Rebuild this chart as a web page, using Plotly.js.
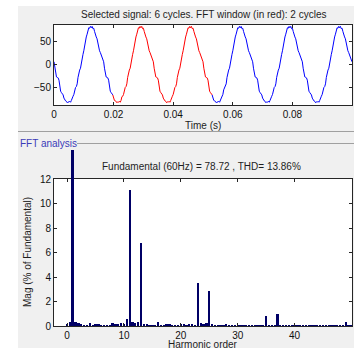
<!DOCTYPE html>
<html>
<head>
<meta charset="utf-8">
<script src="https://cdn.plot.ly/plotly-3.0.1.min.js"></script>
<style>
  html, body { margin: 0; padding: 0; background: #ffffff; }
  #chart { width: 354px; height: 348px; }
</style>
</head>
<body>
<div id="chart"></div>
<script>
// Inverter output voltage, sampled 60 times per 60 Hz cycle (6 cycles shown)
const sampleStep = 1 / 3600; // seconds
const signal = [
  6, -8, -24, -27, -28, -29, -34, -48, -58, -61, -63, -66, -73, -78, -79, -80, -83, -81, -82, -80,
  -82, -78, -70, -69, -65, -55, -50, -48, -42, -28, -14, -12, -8, 6, 18, 22, 30, 44, 57, 60,
  66, 74, 80, 79, 83, 80, 83, 78, 79, 72, 62, 60, 56, 48, 34, 30, 26, 20, 16, 12,
  6, -8, -24, -27, -28, -29, -34, -48, -58, -61, -63, -66, -73, -78, -79, -80, -83, -81, -82, -80,
  -82, -78, -70, -69, -65, -55, -50, -48, -42, -28, -14, -12, -8, 6, 18, 22, 30, 44, 57, 60,
  66, 74, 80, 79, 83, 80, 83, 78, 79, 72, 62, 60, 56, 48, 34, 30, 26, 20, 16, 12,
  6, -8, -24, -27, -28, -29, -34, -48, -58, -61, -63, -66, -73, -78, -79, -80, -83, -81, -82, -80,
  -82, -78, -70, -69, -65, -55, -50, -48, -42, -28, -14, -12, -8, 6, 18, 22, 30, 44, 57, 60,
  66, 74, 80, 79, 83, 80, 83, 78, 79, 72, 62, 60, 56, 48, 34, 30, 26, 20, 16, 12,
  6, -8, -24, -27, -28, -29, -34, -48, -58, -61, -63, -66, -73, -78, -79, -80, -83, -81, -82, -80,
  -82, -78, -70, -69, -65, -55, -50, -48, -42, -28, -14, -12, -8, 6, 18, 22, 30, 44, 57, 60,
  66, 74, 80, 79, 83, 80, 83, 78, 79, 72, 62, 60, 56, 48, 34, 30, 26, 20, 16, 12,
  6, -8, -24, -27, -28, -29, -34, -48, -58, -61, -63, -66, -73, -78, -79, -80, -83, -81, -82, -80,
  -82, -78, -70, -69, -65, -55, -50, -48, -42, -28, -14, -12, -8, 6, 18, 22, 30, 44, 57, 60,
  66, 74, 80, 79, 83, 80, 83, 78, 79, 72, 62, 60, 56, 48, 34, 30, 26, 20, 16, 12,
  6, -8, -24, -27, -28, -29, -34, -48, -58, -61, -63, -66, -73, -78, -79, -80, -83, -81, -82, -80,
  -82, -78, -70, -69, -65, -55, -50, -48, -42, -28, -14, -12, -8, 6, 18, 22, 30, 44, 57, 60,
  66, 74, 80, 79, 83, 80, 83, 78, 79, 72, 62, 60, 56, 48, 34, 30, 26, 20, 16, 12,
  6
];
// FFT window (sample indices), two cycles
const windowStart = 71;
const windowEnd = 191;

// Harmonic spectrum, % of fundamental, at half-order resolution 0 .. 50
const harmonicOrders = Array.from({ length: 101 }, (_, i) => i / 2);
const magnitudes = [
  0.2, 0.3, 100, 0.3, 0.25, 0.15, 0.12, 0.1, 0.25, 0.12,      // 0 - 4.5
  0.15, 0.15, 0.12, 0.1, 0.12, 0.1, 0.25, 0.2, 0.2, 0.25,     // 5 - 9.5
  0.2, 0.55, 11.1, 0.35, 0.25, 0.32, 6.75, 0.15, 0.15, 0.12,  // 10 - 14.5
  0.12, 0.1, 0.3, 0.12, 0.1, 0.15, 0.15, 0.12, 0.1, 0.1,      // 15 - 19.5
  0.2, 0.15, 0.1, 0.15, 0.15, 0.1, 3.5, 0.25, 0.2, 0.25,      // 20 - 24.5
  2.82, 0.15, 0.12, 0.1, 0.1, 0.12, 0.15, 0.05, 0.05, 0.05,   // 25 - 29.5
  0.1, 0.05, 0.08, 0.05, 0.08, 0.05, 0.05, 0.08, 0.1, 0.08,   // 30 - 34.5
  0.85, 0.1, 0.08, 0.05, 1.0, 0.05, 0.05, 0.05, 0.05, 0.05,   // 35 - 39.5
  0.12, 0.05, 0.05, 0.05, 0.05, 0.05, 0.05, 0.05, 0.05, 0.05, // 40 - 44.5
  0.05, 0.05, 0.05, 0.05, 0.1, 0.05, 0.05, 0.08, 0.3, 0.05,   // 45 - 49.5
  0.05                                                        // 50
];
const fundamentalOrder = 1;

const titleTop = 'Selected signal: 6 cycles. FFT window (in red): 2 cycles';
const titleFft = 'Fundamental (60Hz) = 78.72 , THD= 13.86%';
const panelLabel = 'FFT analysis';
const timeLabel = 'Time (s)';
const orderLabel = 'Harmonic order';
const magLabel = 'Mag (% of Fundamental)';

// figure geometry (pixels)
const W = 354, H = 348;
const px = v => v / W;
const py = v => 1 - v / H;

const FONT = 'Liberation Sans, Arial, Helvetica, sans-serif';
const TXT = '#1e1e1e';
const AXC = '#262626';
const BAR = '#000066';

const t = i => i * sampleStep;

const blueA = { x0: 0, dx: sampleStep, y: signal.slice(0, windowStart + 1) };
const redW = { x0: t(windowStart), dx: sampleStep, y: signal.slice(windowStart, windowEnd + 1) };
const blueB = { x0: t(windowEnd), dx: sampleStep, y: signal.slice(windowEnd) };

const line = c => ({ color: c, width: 1 });

const restX = [], restY = [], fundX = [], fundY = [];
harmonicOrders.forEach((o, i) => {
  if (o === fundamentalOrder) { fundX.push(o); fundY.push(magnitudes[i]); }
  else { restX.push(o); restY.push(magnitudes[i]); }
});

const traces = [
  Object.assign({ type: 'scatter', mode: 'lines', line: line('#0000ff'), xaxis: 'x', yaxis: 'y', hoverinfo: 'skip' }, blueA),
  Object.assign({ type: 'scatter', mode: 'lines', line: line('#0000ff'), xaxis: 'x', yaxis: 'y', hoverinfo: 'skip' }, blueB),
  Object.assign({ type: 'scatter', mode: 'lines', line: line('#ff0000'), xaxis: 'x', yaxis: 'y', hoverinfo: 'skip' }, redW),
  { type: 'bar', x: restX, y: restY, width: 0.4, marker: { color: BAR, line: { width: 0 } },
    xaxis: 'x2', yaxis: 'y2', hoverinfo: 'skip' },
  // the fundamental runs past the top of the axes, so it sits on a taller hidden scale
  { type: 'bar', x: fundX, y: fundY, width: 0.45, marker: { color: BAR, line: { width: 0 } },
    xaxis: 'x2', yaxis: 'y3', hoverinfo: 'skip' }
];

const axisBase = {
  showline: true, mirror: 'ticks', linecolor: AXC, linewidth: 1,
  ticks: 'inside', ticklen: 3, tickcolor: AXC, tickwidth: 1,
  showgrid: false, zeroline: false, fixedrange: true,
  tickfont: { family: FONT, size: 10, color: '#111111' }
};

// axes boxes
const topBox = { x0: 54, x1: 352, y0: 25, y1: 105 };
const botBox = { x0: 54, x1: 352, y0: 179, y1: 326 };
const fundTop = 150;
const yMax2 = 12;

const layout = {
  width: W, height: H,
  margin: { l: 0, r: 0, t: 0, b: 0 },
  paper_bgcolor: '#ffffff',
  plot_bgcolor: 'rgba(0,0,0,0)',
  showlegend: false,
  bargap: 0,
  xaxis: Object.assign({}, axisBase, {
    domain: [px(topBox.x0), px(topBox.x1)], range: [0, 0.1], tick0: 0, dtick: 0.02, anchor: 'y'
  }),
  yaxis: Object.assign({}, axisBase, {
    domain: [py(topBox.y1), py(topBox.y0)], range: [-88, 86], tickvals: [-50, 0, 50], anchor: 'x'
  }),
  xaxis2: Object.assign({}, axisBase, {
    domain: [px(botBox.x0), px(botBox.x1)], range: [-2.3, 50.1], tick0: 0, dtick: 10, anchor: 'y2'
  }),
  yaxis2: Object.assign({}, axisBase, {
    domain: [py(botBox.y1), py(botBox.y0)], range: [0, yMax2], tick0: 0, dtick: 2, anchor: 'x2'
  }),
  yaxis3: {
    domain: [py(botBox.y1), py(fundTop)],
    range: [0, yMax2 * (botBox.y1 - fundTop) / (botBox.y1 - botBox.y0)],
    anchor: 'x2', visible: false, showgrid: false, zeroline: false, fixedrange: true
  },
  shapes: [
    { type: 'rect', xref: 'paper', yref: 'paper', x0: px(18), x1: 1, y0: 0, y1: py(6),
      fillcolor: '#f0f0f0', line: { width: 0 }, layer: 'below' },
    { type: 'rect', xref: 'paper', yref: 'paper', x0: px(topBox.x0), x1: px(topBox.x1), y0: py(topBox.y1), y1: py(topBox.y0),
      fillcolor: '#ffffff', line: { width: 0 }, layer: 'below' },
    { type: 'rect', xref: 'paper', yref: 'paper', x0: px(botBox.x0), x1: px(botBox.x1), y0: py(botBox.y1), y1: py(botBox.y0),
      fillcolor: '#ffffff', line: { width: 0 }, layer: 'below' },
    { type: 'line', xref: 'paper', yref: 'paper', x0: px(18), x1: 1, y0: py(131.5), y1: py(131.5),
      line: { color: '#a0a0a0', width: 1 }, layer: 'below' },
    { type: 'line', xref: 'paper', yref: 'paper', x0: px(77), x1: 1, y0: py(143.5), y1: py(143.5),
      line: { color: '#a0a0a0', width: 1 }, layer: 'below' }
  ],
  annotations: [
    { text: titleTop, xref: 'paper', yref: 'paper', x: px(203), y: py(14), xanchor: 'center', yanchor: 'middle',
      showarrow: false, font: { family: FONT, size: 10, color: TXT } },
    { text: timeLabel, xref: 'paper', yref: 'paper', x: px(203), y: py(125.5), xanchor: 'center', yanchor: 'middle',
      showarrow: false, font: { family: FONT, size: 10, color: TXT } },
    { text: panelLabel, xref: 'paper', yref: 'paper', x: px(18), y: py(143), xanchor: 'left', yanchor: 'middle',
      showarrow: false, font: { family: FONT, size: 10, color: '#3a3ab8' } },
    { text: titleFft, xref: 'paper', yref: 'paper', x: px(201), y: py(166), xanchor: 'center', yanchor: 'middle',
      showarrow: false, font: { family: FONT, size: 10, color: TXT } },
    { text: magLabel, xref: 'paper', yref: 'paper', x: px(27), y: py(252), xanchor: 'center', yanchor: 'middle',
      textangle: -90, showarrow: false, font: { family: FONT, size: 10, color: TXT } },
    { text: orderLabel, xref: 'paper', yref: 'paper', x: px(203), y: py(344), xanchor: 'center', yanchor: 'middle',
      showarrow: false, font: { family: FONT, size: 10, color: TXT } }
  ]
};

Plotly.newPlot('chart', traces, layout, { staticPlot: true, displayModeBar: false });
</script>
</body>
</html>
